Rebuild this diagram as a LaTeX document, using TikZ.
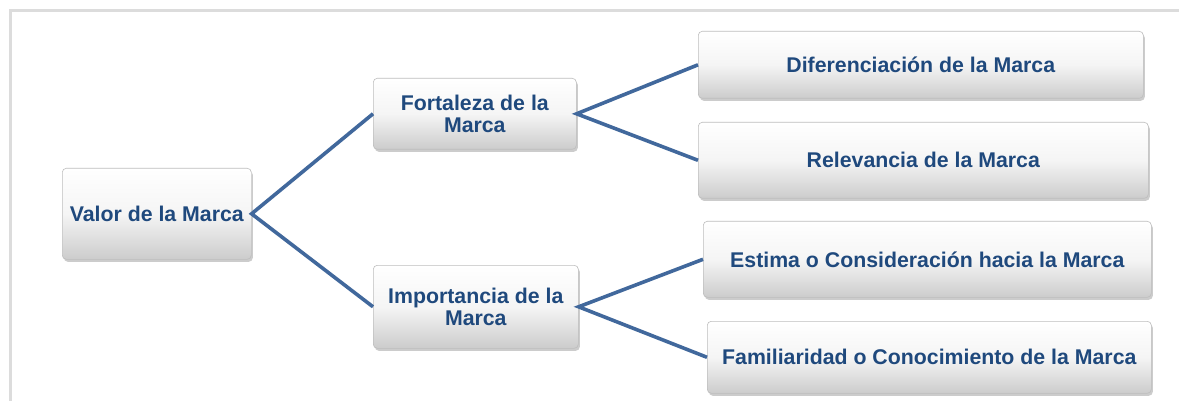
\documentclass[tikz,border=0pt]{standalone}
\usepackage{fontspec}
\setmainfont{Liberation Sans}
\usetikzlibrary{shadows}
\definecolor{txtblue}{HTML}{1F497D}
\definecolor{lineblue}{HTML}{41689C}
\definecolor{framegray}{HTML}{DCDCDC}
\definecolor{boxborder}{HTML}{BEBEBE}
\tikzset{
  box/.style={draw=boxborder, line width=0.6pt, rounded corners=4pt,
    top color=white, bottom color=black!20, middle color=white!96!black,
    drop shadow={opacity=0.4, shadow xshift=1.5pt, shadow yshift=-2.5pt},
    anchor=north west, inner sep=0pt, align=center,
    font=\fontsize{21.3}{21.5}\selectfont\bfseries, text=txtblue},
  conn/.style={draw=lineblue, line width=3.6pt}
}
\begin{document}
\begin{tikzpicture}[x=1pt,y=-1pt]
\useasboundingbox (0,0) rectangle (1179,401);
\fill[white] (0,0) rectangle (1179,401);
\draw[framegray, line width=3pt] (10,401) -- (10,11) -- (1179,11);
\node[box, minimum width=189pt, minimum height=91pt] (valor) at (62,168) {Valor de la Marca};
\node[box, minimum width=203pt, minimum height=71pt] (fort) at (373,78) {Fortaleza de la\\Marca};
\node[box, minimum width=205pt, minimum height=83pt] (imp) at (373,265) {Importancia de la\\Marca};
\node[box, minimum width=445pt, minimum height=67pt] (dif) at (698,31) {Diferenciación de la Marca};
\node[box, minimum width=450pt, minimum height=76pt] (rel) at (698,122) {Relevancia de la Marca};
\node[box, minimum width=448pt, minimum height=76pt] (est) at (703,221) {Estima o Consideración hacia la Marca};
\node[box, minimum width=444pt, minimum height=72pt] (fam) at (707,321) {Familiaridad o Conocimiento de la Marca};
\draw[conn] (fort.west) -- (valor.east) -- (imp.west);
\draw[conn] (dif.west) -- (fort.east) -- (rel.west);
\draw[conn] (est.west) -- (imp.east) -- (fam.west);
\end{tikzpicture}
\end{document}
